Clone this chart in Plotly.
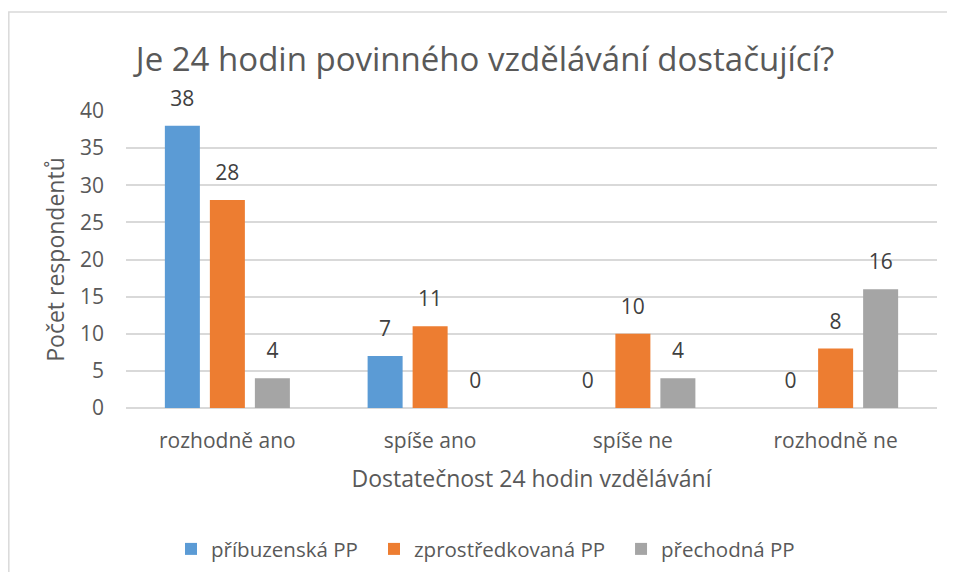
import plotly.graph_objects as go

categories = ["rozhodně ano", "spíše ano", "spíše ne", "rozhodně ne"]
series_names = ["příbuzenská PP", "zprostředkovaná PP", "přechodná PP"]
pribuzenska = [38, 7, 0, 0]
zprostredkovana = [28, 11, 10, 8]
prechodna = [4, 0, 4, 16]
colors = ["#5B9BD5", "#ED7D31", "#A5A5A5"]
y_ticks = [0, 5, 10, 15, 20, 25, 30, 35, 40]

FONT = "Open Sans"
TXT = "#595959"
GAP = 0.334

legend_ids = ["legend", "legend2", "legend3"]
legend_x = [0.0555, 0.3058, 0.6104]

fig = go.Figure()
for k, (name, vals, col) in enumerate(zip(series_names, [pribuzenska, zprostredkovana, prechodna], colors)):
    fig.add_trace(go.Bar(
        x=categories, y=vals, name=name, marker=dict(color=col, line=dict(width=0)),
        offsetgroup=str(k), legend=legend_ids[k], hoverinfo="x+y+name",
    ))
for k, vals in enumerate([pribuzenska, zprostredkovana, prechodna]):
    fig.add_trace(go.Scatter(
        x=categories, y=vals, mode="markers+text", text=[str(v) for v in vals],
        textposition="top center", offsetgroup=str(k), showlegend=False, cliponaxis=False,
        marker=dict(size=22, color="rgba(0,0,0,0)"), hoverinfo="skip",
        textfont=dict(family=FONT, size=21, color="#404040"),
    ))

layout_legends = {}
for lid, lx in zip(legend_ids, legend_x):
    layout_legends[lid] = dict(orientation="h", x=lx, xanchor="left", y=-0.475, yanchor="middle",
                               font=dict(family=FONT, size=20.5, color=TXT), itemwidth=30,
                               bgcolor="rgba(0,0,0,0)")

fig.update_layout(
    width=939, height=564,
    paper_bgcolor="white", plot_bgcolor="white",
    margin=dict(l=118, r=10, t=103, b=164, autoexpand=False),
    barmode="group", bargap=GAP, bargroupgap=0.222,
    scattermode="group", scattergap=GAP,
    title=dict(text="Je 24 hodin povinného vzdělávání dostačující?", x=0.508, xanchor="center",
               y=0.908, yanchor="middle", font=dict(family=FONT, size=33, color=TXT)),
    font=dict(family=FONT, color=TXT),
    xaxis=dict(title=dict(text="Dostatečnost 24 hodin vzdělávání", font=dict(family=FONT, size=23, color=TXT), standoff=17),
               tickfont=dict(family=FONT, size=21, color=TXT), showline=False, ticks="", showgrid=False,
               ticklabelstandoff=18, automargin=False),
    yaxis=dict(title=dict(text="Počet respondentů", font=dict(family=FONT, size=23, color=TXT), standoff=8),
               range=[0, 40], tickvals=y_ticks, tickfont=dict(family=FONT, size=21, color=TXT),
               gridcolor="#D9D9D9", gridwidth=1.5, zeroline=True, zerolinecolor="#D9D9D9", zerolinewidth=1.5,
               ticks="", showline=False, ticklabelstandoff=21, automargin=False),
    shapes=[dict(type="rect", xref="paper", yref="paper", x0=-0.1445, x1=1.5, y0=-1.0, y1=1.3333,
                 line=dict(color="#D9D9D9", width=1.5), fillcolor="rgba(0,0,0,0)", layer="below")],
    **layout_legends,
)

fig.write_html("out.html")
